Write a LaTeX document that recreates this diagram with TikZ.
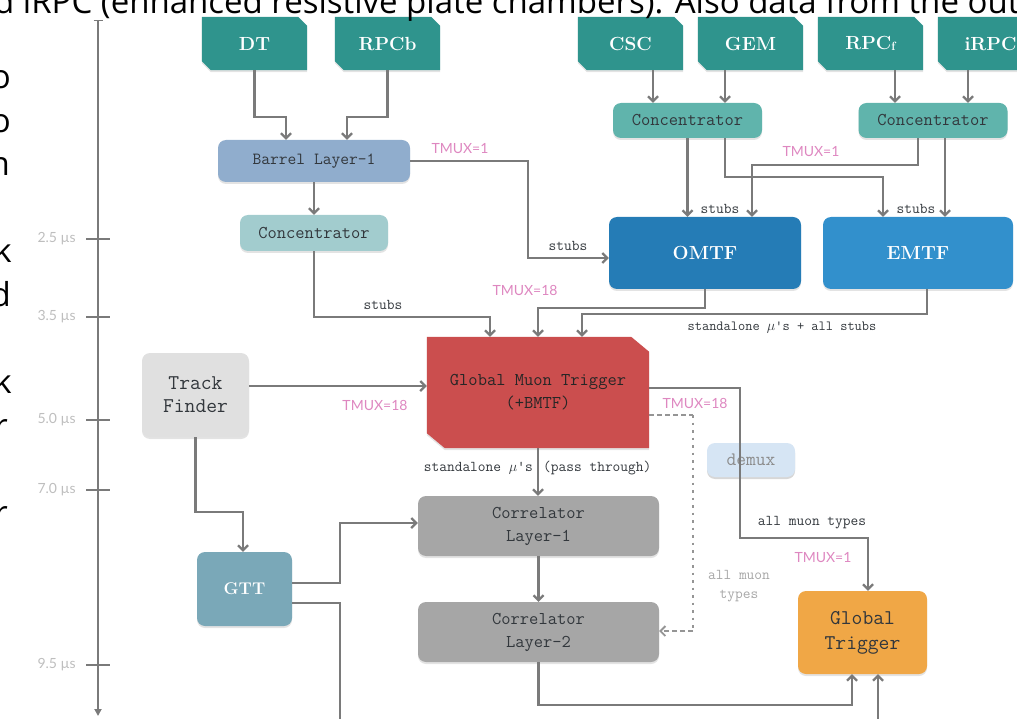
\documentclass[tikz,border=0pt]{standalone}
\usepackage{fontspec}
\newfontfamily\osans{Open Sans}
\newfontfamily\lato{Lato}
\usetikzlibrary{arrows.meta,shadows}
\pgfdeclarelayer{background}
\pgfsetlayers{background,main}
\definecolor{detc}{RGB}{47,148,141}
\definecolor{conct}{RGB}{96,180,172}
\definecolor{concl}{RGB}{162,204,206}
\definecolor{barrelc}{RGB}{144,173,205}
\definecolor{omtfc}{RGB}{37,124,182}
\definecolor{emtfc}{RGB}{50,144,204}
\definecolor{gmtc}{RGB}{203,78,78}
\definecolor{tfc}{RGB}{224,224,224}
\definecolor{gttc}{RGB}{122,168,184}
\definecolor{corrc}{RGB}{166,166,166}
\definecolor{demuxc}{RGB}{214,229,244}
\definecolor{gtc}{RGB}{240,167,70}
\definecolor{linec}{RGB}{122,122,122}
\definecolor{pinkc}{RGB}{222,135,192}
\definecolor{tlgray}{RGB}{190,190,190}
\definecolor{txtc}{RGB}{50,55,60}
% chamfered fill behind a named node: name, colour, x-cut, y-cut
\newcommand\chamferfill[4]{%
  \begin{pgfonlayer}{background}
  \fill[#2, shd] (#1.north west) -- ([xshift=-#3]#1.north east) -- ([yshift=-#4]#1.north east)
    -- (#1.south east) -- ([xshift=#3]#1.south west) -- ([yshift=#4]#1.south west) -- cycle;
  \end{pgfonlayer}}
\begin{document}
\begin{tikzpicture}[x=1pt,y=-1pt,
  shd/.style={drop shadow={shadow xshift=0pt,shadow yshift=-2pt,opacity=0.22}},
  box/.style={rounded corners=8pt, inner sep=0pt, align=center, shd, text=txtc,
    font=\fontsize{18}{23}\selectfont\ttfamily},
  detbox/.style={rectangle, inner sep=0pt, minimum width=105pt, minimum height=53pt, text=white,
    font=\fontsize{19}{22}\selectfont\bfseries},
  conc/.style={box, fill=conct, minimum width=149pt, minimum height=35pt},
  line/.style={draw=linec, line width=2.2pt},
  arr/.style={line, -{Straight Barb[length=5pt,width=10pt]}},
  dline/.style={draw=linec!80, line width=1.8pt},
  lab/.style={font=\fontsize{15}{18}\selectfont\ttfamily, text=txtc, inner sep=0pt},
  tmux/.style={font=\fontsize{14}{16}\selectfont\lato, text=pinkc, inner sep=0pt},
  tl/.style={draw=linec, line width=2.2pt},
  tlab/.style={font=\fontsize{14}{16}\selectfont\lato, text=tlgray, inner sep=0pt, anchor=east},
  cut/.style={font=\fontsize{33}{36}\selectfont\osans, text=black, inner sep=0pt}
]
\useasboundingbox (0,0) rectangle (1017,719);
\clip (0,0) rectangle (1017,719);

% cut-off page text
\node[cut, anchor=base west] (toptext) at (-6,14) {d iRPC (enhanced resistive plate chambers). Also data from the out};
\node[cut, anchor=base east] (c1) at (11,89) {o};
\node[cut, anchor=base east] (c2) at (11,132.5) {o};
\node[cut, anchor=base east] (c3) at (10,176) {n};
\node[cut, anchor=base east] (c4) at (12,263) {k};
\node[cut, anchor=base east] (c5) at (11,306.5) {d};
\node[cut, anchor=base east] (c6) at (12,393.5) {k};
\node[cut, anchor=base east] (c7) at (8,437) {r};
\node[cut, anchor=base east] (c8) at (8,524) {r};

% timeline
\draw[tl, {Bar[width=9pt,line width=1.5pt]}-{Triangle[width=7pt,length=7pt]}] (98,20) -- (98,716);
\foreach \yy/\tt in {239/2.5, 317/3.5, 420/5.0, 490/7.0, 665/9.5}{
  \draw[tl] (86,\yy) -- (110,\yy);
  \node[tlab] at (76,\yy) {\tt\ µs};
}

% detectors
\node[detbox] (DT) at (254.5,43.5) {DT};
\node[detbox] (RPCb) at (387.5,43.5) {RPCb};
\node[detbox] (CSC) at (630.5,43.5) {CSC};
\node[detbox] (GEM) at (750.5,43.5) {GEM};
\node[detbox] (RPCf) at (870.5,43.5) {RPC\raisebox{-1pt}{\fontsize{12}{12}\selectfont f}};
\node[detbox] (iRPC) at (990.5,43.5) {iRPC};
\foreach \n in {DT,RPCb,CSC,GEM,RPCf,iRPC}{\chamferfill{\n}{detc}{9pt}{9pt}}

% boxes
\node[box, fill=barrelc, minimum width=192pt, minimum height=42pt, font=\fontsize{17}{20}\selectfont\ttfamily] (Barrel) at (314,161) {Barrel Layer-1};
\node[box, fill=concl, minimum width=148pt, minimum height=36pt] (ConcL) at (314,233) {Concentrator};
\node[conc] (Conc1) at (687.5,120.5) {Concentrator};
\node[conc] (Conc2) at (933,120.5) {Concentrator};
\node[box, fill=omtfc, minimum width=192pt, minimum height=72pt, text=white, font=\fontsize{19}{22}\selectfont\bfseries] (OMTF) at (705,253) {OMTF};
\node[box, fill=emtfc, minimum width=190pt, minimum height=72pt, text=white, font=\fontsize{19}{22}\selectfont\bfseries] (EMTF) at (918,253) {EMTF};
\node[rectangle, inner sep=0pt, minimum width=222pt, minimum height=111pt,
    align=center, text=black!85, font=\fontsize{18}{23}\selectfont\ttfamily] (GMT) at (538,392.5) {Global Muon Trigger\\(+BMTF)};
\chamferfill{GMT}{gmtc}{18pt}{15pt}
\node[box, fill=tfc, minimum width=107pt, minimum height=84pt, font=\fontsize{21}{23}\selectfont\ttfamily] (TF) at (195.5,395) {Track\\Finder};
\node[box, fill=gttc, minimum width=95pt, minimum height=74pt, text=white, font=\fontsize{17}{20}\selectfont\bfseries] (GTT) at (244.5,589) {GTT};
\node[box, fill=corrc, minimum width=241pt, minimum height=60pt] (CorrL1) at (538.5,526) {Correlator\\Layer-1};
\node[box, fill=corrc, minimum width=241pt, minimum height=60pt] (CorrL2) at (538.5,632) {Correlator\\Layer-2};
\node[box, fill=gtc, minimum width=129pt, minimum height=83pt, font=\fontsize{21}{25}\selectfont\ttfamily] (GT) at (862.5,632.5) {Global\\Trigger};

% connectors
\draw[arr] (DT.south) -- ++(0,47) -| ([xshift=-28pt]Barrel.north);
\draw[arr] (RPCb.south) -- ++(0,47) -| ([xshift=33pt]Barrel.north);
\draw[arr] (Barrel.east) -- ++(118,0) |- ([yshift=-5pt]OMTF.west);
\draw[arr] (Barrel.south) -- (ConcL.north);
\draw[arr] ([xshift=22.5pt]CSC.south) -- ([xshift=22.5pt]CSC.south |- Conc1.north);
\draw[arr] ([xshift=-25.5pt]GEM.south) -- ([xshift=-25.5pt]GEM.south |- Conc1.north);
\draw[arr] ([xshift=24.5pt]RPCf.south) -- ([xshift=24.5pt]RPCf.south |- Conc2.north);
\draw[arr] ([xshift=-22.5pt]iRPC.south) -- ([xshift=-22.5pt]iRPC.south |- Conc2.north);
\draw[arr] (Conc1.south) -- (Conc1.south |- OMTF.north);
\draw[arr] ([xshift=37.5pt]Conc1.south) -- ++(0,39) -| ([xshift=-35pt]EMTF.north);
\draw[arr] ([xshift=-15pt]Conc2.south) -- ++(0,27) -| ([xshift=47pt]OMTF.north);
\draw[arr] ([xshift=12pt]Conc2.south) -- ([xshift=12pt]Conc2.south |- EMTF.north);
\draw[arr] (ConcL.south) -- ++(0,66) -| ([xshift=-48pt]GMT.north);
\draw[arr] (OMTF.south) -- ++(0,19) -| (GMT.north);
\draw[arr] ([xshift=9pt]EMTF.south) -- ++(0,25) -| ([xshift=44pt]GMT.north);
\draw[arr] ([yshift=9pt]TF.east) -- ([yshift=9pt]TF.east -| GMT.west);
\draw[arr] (TF.south) -- ++(0,75) -| ([xshift=-1.5pt]GTT.north);
\draw[arr] ([yshift=6pt]GTT.east) -- ++(48,0) |- ([yshift=3pt]CorrL1.west);
\coordinate (gttout) at (340,725);
\draw[line] ([yshift=-14pt]GTT.east) -| (gttout);
\draw[arr] (GMT.south) -- (GMT.south |- CorrL1.north);
\draw[arr] (CorrL1.south) -- (CorrL2.north);
\draw[arr] (CorrL2.south) -- ++(0,43) -| ([xshift=-10.5pt]GT.south);
\coordinate (gtin) at (878,725);
\draw[arr] (gtin) -- (gtin |- GT.south);

% demux (line passes through it)
\node[box, fill=demuxc, minimum width=88pt, minimum height=34pt, text=black!45, font=\fontsize{19}{22}\selectfont\ttfamily, drop shadow={shadow xshift=0pt,shadow yshift=-2pt,opacity=0.12}] (demux) at (751,460) {demux};
\draw[arr] ([yshift=4.5pt]GMT.east) -- ++(91,0) -- ++(0,150) -| ([xshift=5.5pt]GT.north);

% dashed / dotted path
\coordinate (dk1) at (693,415);
\coordinate (dk2) at (693,631);
\draw[dline, dash pattern=on 5pt off 3pt] ([yshift=-22.5pt]GMT.east) -- (dk1);
\draw[dline, line width=2.2pt, dash pattern=on 2.5pt off 5pt] (dk1) -- (dk2);
\draw[dline, dash pattern=on 5pt off 3pt, -{Straight Barb[length=5pt,width=10pt]}] (dk2) -- (dk2 -| CorrL2.east);

% labels
\node[tmux] at (460,149) {TMUX=1};
\node[tmux] at (811,152) {TMUX=1};
\node[tmux] at (525,290) {TMUX=18};
\node[tmux] at (375,405) {TMUX=18};
\node[tmux] at (695,403) {TMUX=18};
\node[tmux] at (823,558) {TMUX=1};
\node[lab] at (568,246) {stubs};
\node[lab] at (720,209) {stubs};
\node[lab] at (916,209) {stubs};
\node[lab] at (383,305) {stubs};
\node[lab, font=\fontsize{14}{17}\selectfont\ttfamily] at (782,328) {standalone $\mu$'s + all stubs};
\node[lab, anchor=east] at (533,468) {standalone $\mu$'s};
\node[lab, anchor=west] at (543,468) {(pass through)};
\node[lab] at (812,523) {all muon types};
\node[lab, text=black!35, align=center, font=\fontsize{15}{19}\selectfont\ttfamily] at (739,586) {all muon\\types};
\end{tikzpicture}
\end{document}
